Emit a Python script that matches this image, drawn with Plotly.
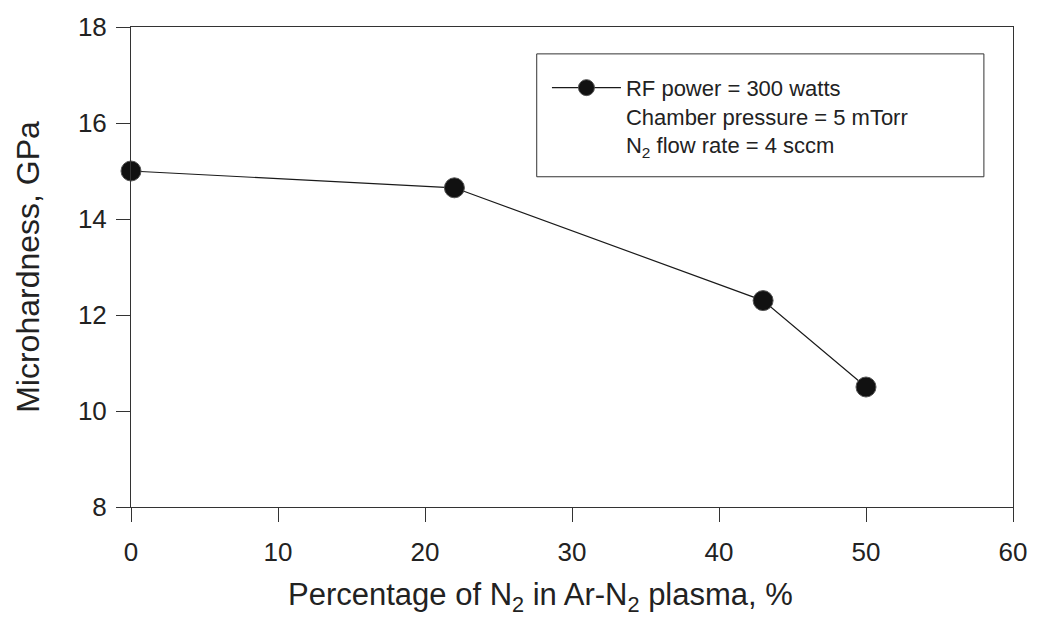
import plotly.graph_objects as go

# Microhardness vs. nitrogen fraction in the Ar-N2 sputtering plasma
n2_percent = [0, 22, 43, 50]
microhardness = [15.0, 14.65, 12.3, 10.5]

x_ticks = [0, 10, 20, 30, 40, 50, 60]
y_ticks = [8, 10, 12, 14, 16, 18]

legend_label = ("RF power = 300 watts<br>"
                "Chamber pressure = 5 mTorr<br>"
                "N<sub>2</sub> flow rate = 4 sccm")
x_title = "Percentage of N<sub>2</sub> in Ar-N<sub>2</sub> plasma, %"
y_title = "Microhardness, GPa"

FONT = "Liberation Sans, Arial, sans-serif"
INK = "#222222"

fig = go.Figure()
fig.add_trace(go.Scatter(
    x=n2_percent, y=microhardness,
    mode="lines+markers",
    name=legend_label,
    line=dict(color="#1a1a1a", width=1.2),
    marker=dict(symbol="circle", size=20, color="#111111",
                line=dict(color="#555555", width=1)),
    cliponaxis=False,
))

axis_common = dict(
    showgrid=False, zeroline=False,
    showline=True, linecolor="#333333", linewidth=1, mirror=True,
    ticks="outside", ticklen=14, tickwidth=1, tickcolor="#333333",
    tickfont=dict(family=FONT, size=26, color=INK),
)

fig.update_xaxes(
    range=[0, 60], tickvals=x_ticks, ticktext=[str(v) for v in x_ticks],
    ticklabelstandoff=8,
    **axis_common,
)
fig.update_yaxes(
    range=[8, 18], tickvals=y_ticks, ticktext=[str(v) for v in y_ticks],
    title=dict(text=y_title,
               font=dict(family=FONT, size=32, color=INK), standoff=28),
    ticklabelstandoff=4,
    **axis_common,
)

# x-axis caption, set slightly left of the plot centre
fig.add_annotation(text=x_title, xref="paper", yref="paper",
                   x=0.464, y=-0.188, xanchor="center", yanchor="middle",
                   showarrow=False,
                   font=dict(family=FONT, size=31, color=INK))

# frame around the legend block
fig.add_shape(type="rect", xref="paper", yref="paper",
              x0=0.460, x1=0.967, y0=0.688, y1=0.944,
              line=dict(color="#333333", width=1), fillcolor="white",
              layer="below")

fig.update_layout(
    width=1039, height=617,
    margin=dict(l=131, r=19, t=27, b=110),
    paper_bgcolor="white", plot_bgcolor="white",
    showlegend=True,
    legend=dict(
        x=0.4716, y=0.917, xanchor="left", yanchor="top",
        borderwidth=0, bgcolor="rgba(0,0,0,0)",
        font=dict(family=FONT, size=22, color=INK),
        valign="top", itemwidth=69,
    ),
)

fig.write_html("out.html")
